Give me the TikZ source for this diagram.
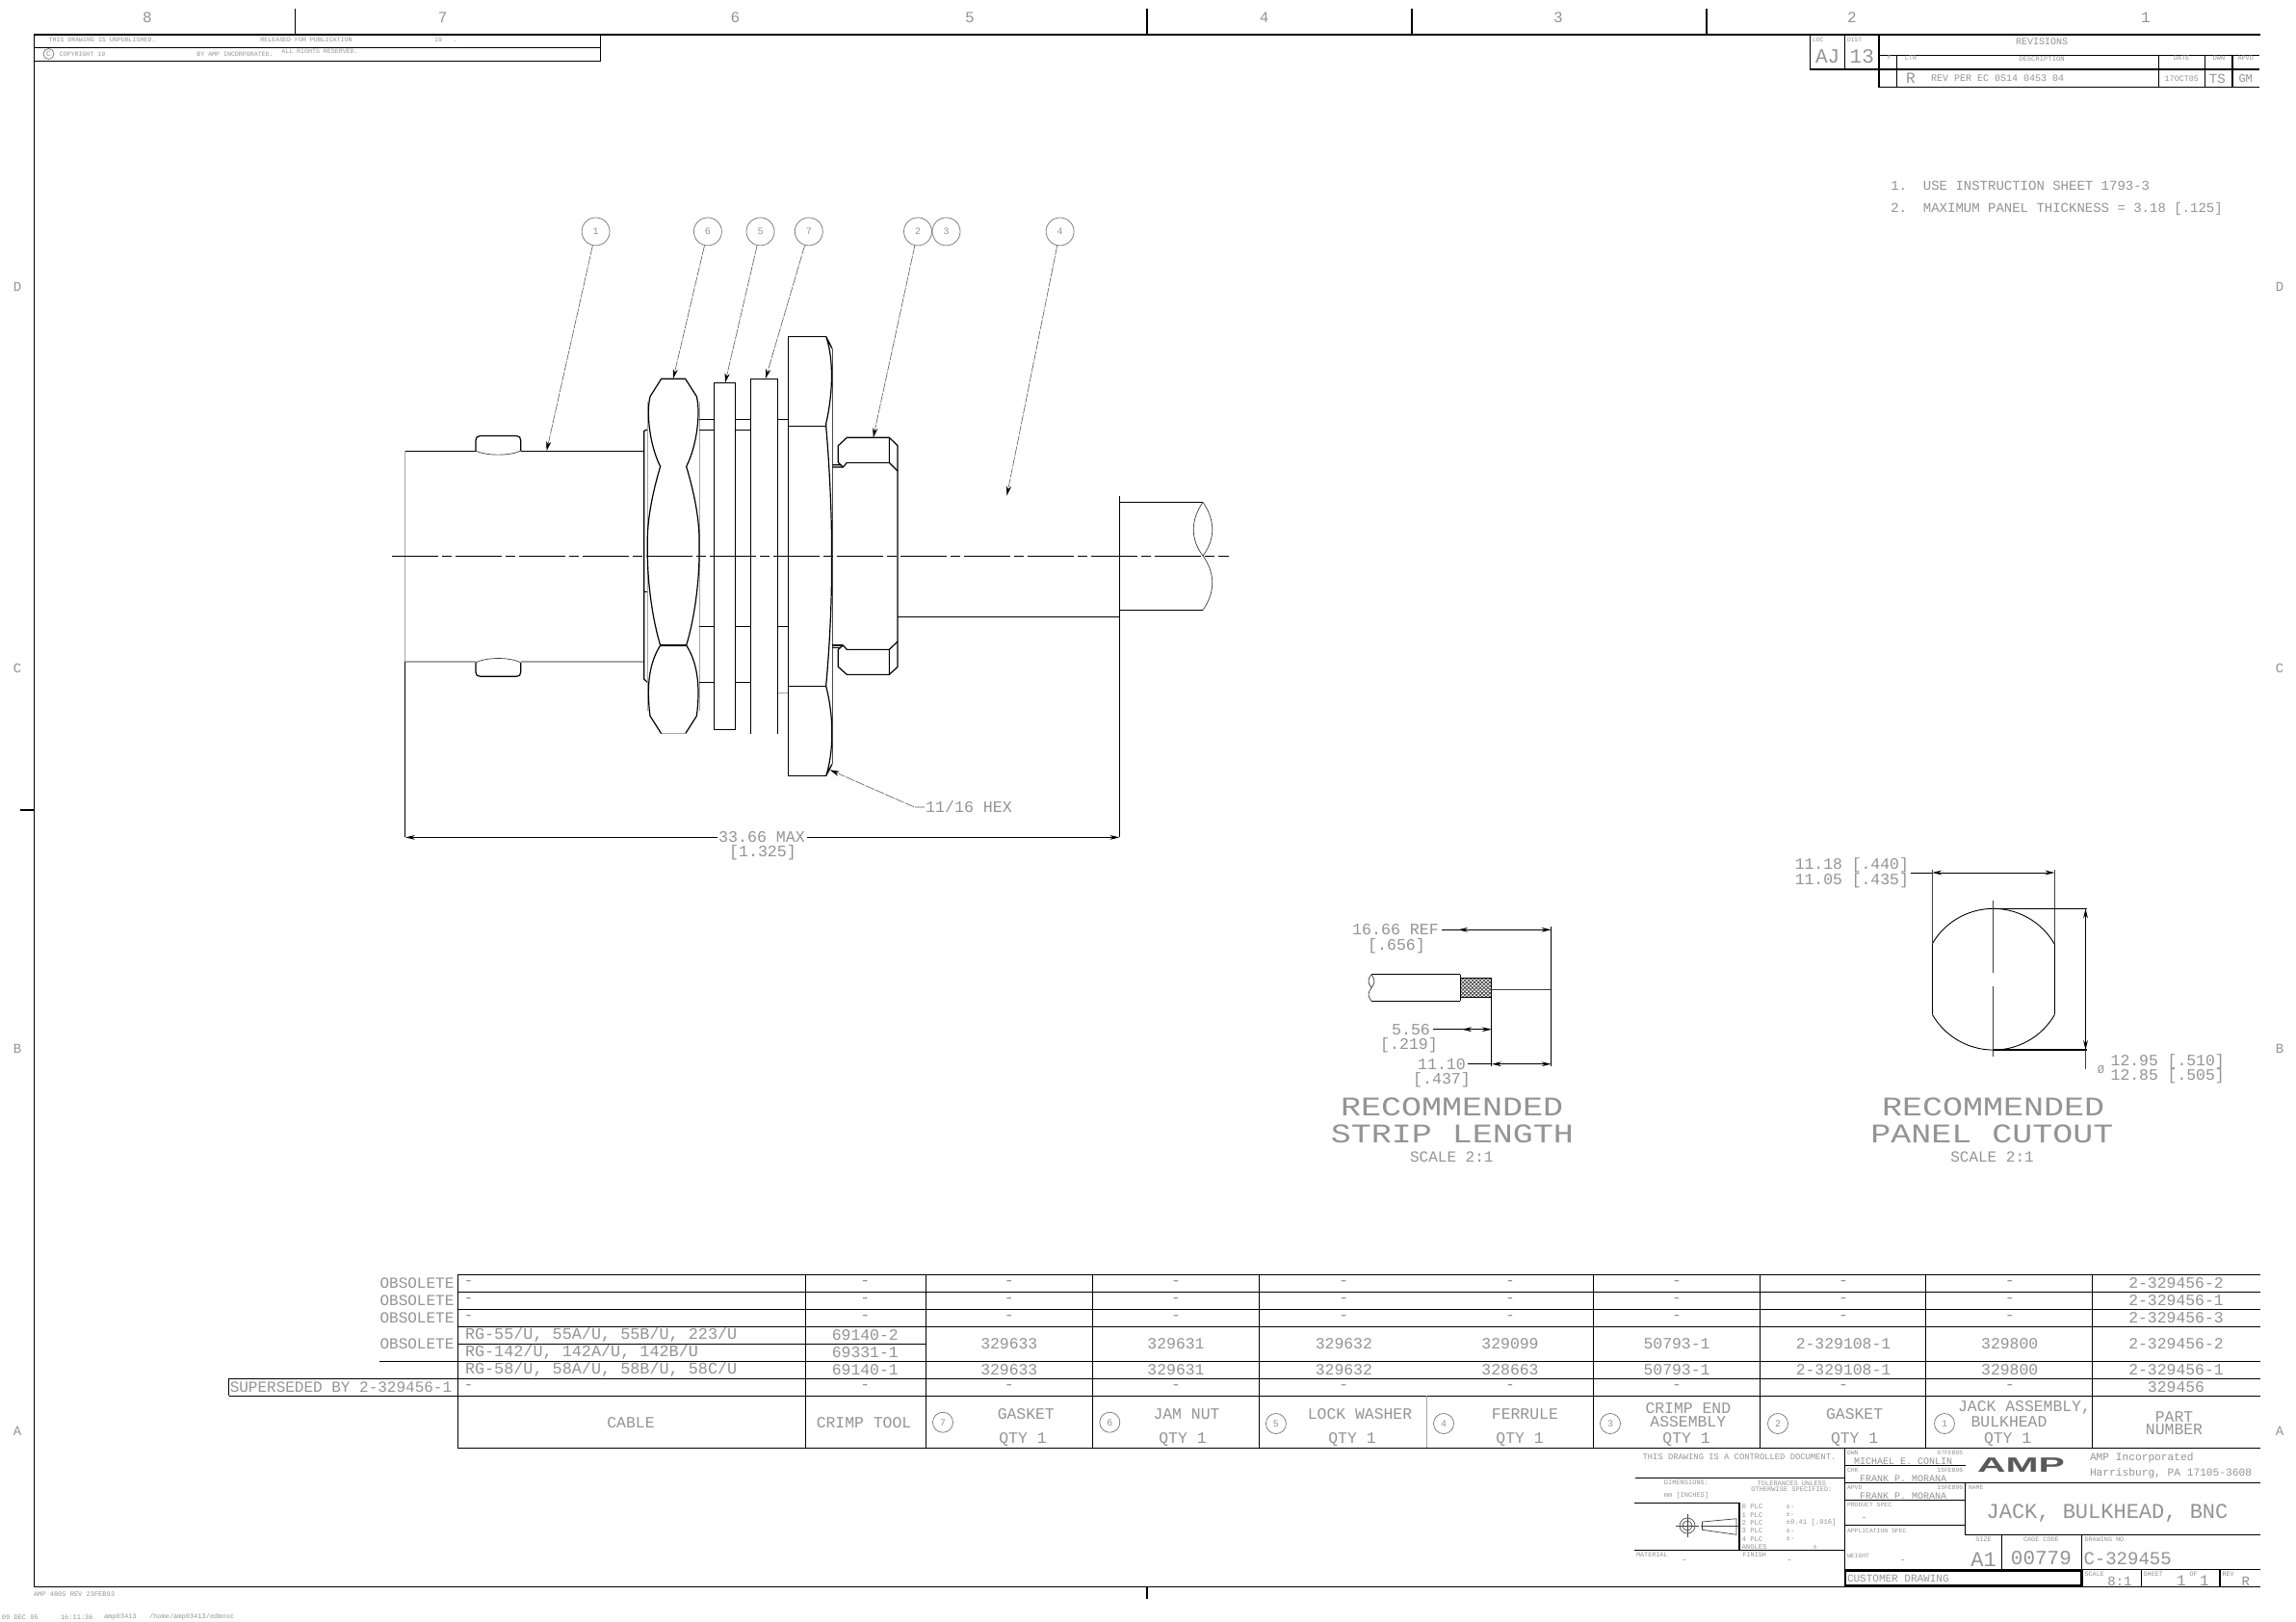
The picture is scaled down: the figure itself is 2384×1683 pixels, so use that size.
\documentclass[tikz,border=0pt]{standalone}
\usepackage{fontspec}
\usepackage{graphicx}
\setmainfont{Liberation Mono}
\newfontfamily\cadwide[FakeStretch=1.25]{Liberation Mono}
\newfontfamily\logofont[FakeStretch=1.6]{Liberation Sans}
\usetikzlibrary{arrows.meta}
\definecolor{cadtext}{gray}{0.58}
\newcounter{tn}
\tikzset{
  cad/.style={inner sep=0pt,outer sep=0pt,text=cadtext},
  ln/.style={line width=0.6pt,draw=black},
  thinln/.style={line width=0.35pt,draw=black!75},
  heavy/.style={line width=0.8pt,draw=black},
  faint/.style={line width=0.5pt,draw=black!35},
  leader/.style={line width=0.3pt,draw=black!65,dash pattern=on 5pt off 0.6pt,-{Stealth[length=5pt,width=2.6pt,black]}},
  dimln/.style={line width=0.5pt,draw=black},
  dimarr/.style={dimln,{Stealth[length=5pt,width=2.4pt]}-{Stealth[length=5pt,width=2.4pt]}},
  center/.style={line width=0.5pt,draw=black,dash pattern=on 24pt off 2pt on 5pt off 2pt},
  balloon/.style={circle,draw=black!55,line width=0.35pt,minimum size=14.5pt,inner sep=0pt,text=cadtext,font=\fontsize{5}{5}\selectfont},
  mini/.style={balloon,minimum size=10.5pt,font=\fontsize{5}{5}\selectfont},
}
% x, y (pixels), font size (pt), text
\newcommand{\Tt}[5][]{\stepcounter{tn}\node[cad,font=\fontsize{#4}{#4}\selectfont,#1] (tn\arabic{tn}) at (#2,#3) {#5};}
\newcommand{\Lt}[4]{\Tt[anchor=west]{#1}{#2}{#3}{#4}}
\begin{document}
\begin{tikzpicture}[x=0.5pt,y=-0.5pt]
\useasboundingbox (0,0) rectangle (2384,1683);
\fill[white] (0,0) rectangle (2384,1683);

%% sheet frame
\draw[ln] (2347,36) -- (35.4,36) -- (35.4,1647.3) -- (2347,1647.3);
\foreach \x in {306.4,1191,1466,1772} \draw[ln] (\x,9) -- (\x,36);
\draw[ln] (1191,1647.3) -- (1191,1660);
\draw[ln] (21,841) -- (35.4,841);
\foreach \x/\n in {153/8,459.6/7,763.5/6,1007/5,1312.6/4,1618/3,1923/2,2228/1} {\Tt{\x}{18}{8}{\n}}
\foreach \y/\n in {298/D,694/C,1089/B,1486/A} {\Tt{18}{\y}{7}{\n} \Tt{2367}{\y}{7}{\n}}

%% header box
\draw[ln] (35.4,49.3) -- (623.7,49.3) (35.4,63.3) -- (623.7,63.3) (623.7,36) -- (623.7,63.3);
\Tt{106}{41.5}{3.3}{THIS DRAWING IS UNPUBLISHED.}
\Tt{318}{41.5}{3.3}{RELEASED FOR PUBLICATION}
\Tt{463}{41.5}{3.3}{19\ \ \ .}
\node[circle,draw=black!60,line width=0.3pt,minimum size=5.5pt,inner sep=0pt,text=cadtext,font=\fontsize{4}{4}\selectfont] (copy) at (50.5,56) {C};
\Tt{85.5}{56.5}{3.3}{COPYRIGHT 19}
\Tt{244}{56.5}{3.3}{BY AMP INCORPORATED.}
\Tt{332}{53.3}{3.3}{ALL RIGHTS RESERVED.}

%% revision block
\draw[ln] (1879.3,36) -- (1879.3,72) -- (1951,72) (1915.3,36) -- (1915.3,72) (1951,36) -- (1951,90.3) -- (2346,90.3);
\draw[ln] (1951,57.3) -- (2346,57.3) (1951,72) -- (2346,72);
\draw[ln] (1969.3,57.3) -- (1969.3,90.3) (2241.3,57.3) -- (2241.3,90.3) (2289.3,57.3) -- (2289.3,90.3) (2318,57.3) -- (2318,90.3);
\Lt{1882}{41}{3.2}{LOC}\Lt{1918}{41}{3.2}{DIST}
\Tt{1897.7}{58.3}{10.5}{AJ}\Tt{1933.3}{58.3}{10.5}{13}
\Tt{2120}{42.7}{5}{REVISIONS}
\Tt{1961.7}{59.3}{3}{P}\Tt{1984}{60.7}{3.4}{LTR}\Tt{2120}{60.7}{3.6}{DESCRIPTION}
\Tt{2265.3}{60.7}{3.4}{DATE}\Tt{2304}{60.7}{3.4}{DWN}\Tt{2331.7}{60.7}{3.4}{APVD}
\Tt{1984}{81}{8}{R}\Tt{2074}{81.5}{5}{REV PER EC 0S14 0453 04}
\Tt{2265.3}{81.5}{4.2}{17OCT05}\Tt{2302.3}{81.5}{7}{TS}\Tt{2331.7}{81.5}{6}{GM}

%% notes
\Lt{1963.3}{193.3}{7}{1.\ \ USE INSTRUCTION SHEET 1793-3}
\Lt{1963.3}{216.7}{7}{2.\ \ MAXIMUM PANEL THICKNESS = 3.18 [.125]}

%% ---- main view ----
\coordinate (cL) at (407,577.3);
\coordinate (cR) at (1276,577.3);
% connector body
\draw[ln] (420.8,468.4) -- (493.9,468.4) (540.7,468.4) -- (668.7,468.4);
\draw[faint,line width=0.8pt] (420.8,686.8) -- (493.9,686.8) (540.7,686.8) -- (668.7,686.8);
\draw[faint] (420.8,468.4) -- (420.8,686.8);
\draw[ln] (493.9,468) -- (493.9,457) .. controls (493.9,454) and (496,452.5) .. (499,452.5) -- (536,452.5) .. controls (539,452.5) and (540.7,454) .. (540.7,457) -- (540.7,468);
\draw[thinln] (493.9,468) .. controls (505,473.5) and (530,473.5) .. (540.7,468);
\draw[ln] (493.9,688) -- (493.9,698) .. controls (493.9,701) and (496,702.3) .. (499,702.3) -- (536,702.3) .. controls (539,702.3) and (540.7,701) .. (540.7,698) -- (540.7,688);
\draw[thinln] (493.9,688) .. controls (505,682) and (530,682) .. (540.7,688);

\begin{scope}[xshift=320pt,yshift=-170pt,x=0.166667pt,y=-0.166667pt]
 % step of body
 \draw[ln] (97,318) -- (86,322) -- (86,1095) -- (97,1105) (86,823) -- (97,823);
 \draw[faint] (97,232) -- (97,1195) (259,232) -- (259,1195);
 % jam nut
 \draw[ln] (105,215) -- (140,160) -- (215,160) -- (250,215) .. controls (263,270) and (250,370) .. (218,433)
   .. controls (250,540) and (260,620) .. (258,680) .. controls (260,780) and (245,900) .. (218,990)
   .. controls (250,1040) and (263,1110) .. (250,1210) -- (215,1265);
 \draw[faint,line width=0.8pt] (215,1265) -- (140,1265);
 \draw[ln] (140,1265) -- (105,1210) .. controls (92,1110) and (105,1040) .. (137,990)
   .. controls (110,900) and (95,780) .. (97,680) .. controls (95,620) and (105,540) .. (137,433)
   .. controls (105,370) and (92,270) .. (105,215);
 \draw[ln] (137,990) -- (218,990);
 % shaft
 \draw[ln] (259,287) -- (304,287) (370,287) -- (418,287) (502,287) -- (535,287);
 \draw[ln] (259,319) -- (304,319) (370,319) -- (418,319);
 \draw[ln] (259,931) -- (304,931) (370,931) -- (418,931) (502,931) -- (535,931);
 \draw[ln] (259,1105) -- (304,1105) (370,1105) -- (418,1105);
 \draw[faint] (502,1138) -- (535,1138);
 % lock washer and gasket
 \draw[ln] (304,172) rectangle (370,1252);
 \draw[ln] (418,1265) -- (418,160) -- (502,160) -- (502,1265);
 % bulkhead nut
 \draw[ln] (653,28) -- (535,28) -- (535,1397) -- (653,1397);
 \draw[ln] (535,307) -- (653,307) (535,1117) -- (653,1117);
 \draw[ln] (653,28) -- (672,65) (653,28) .. controls (672,80) and (680,180) .. (653,300) -- (653,307)
   .. controls (668,480) and (672,650) .. (670,712) .. controls (672,800) and (668,950) .. (653,1117)
   .. controls (680,1220) and (675,1330) .. (653,1397) -- (672,1360);
 \draw[ln,draw=black!70] (673,65) -- (673,1360);
 % rear nut
 \draw[ln] (673,428) -- (700,428) (673,435) -- (706,435) -- (718,421) -- (850,421);
 \draw[ln] (691,420) -- (706,435) (691,420) -- (691,368) -- (718,343) -- (850,343) -- (876,368) -- (876,1057) -- (850,1081) -- (718,1081) -- (691,1057) -- (691,1003) -- (706,990) -- (718,1003) -- (850,1003);
 \draw[ln] (850,343) -- (850,421) -- (876,447) (850,1081) -- (850,1003) -- (876,978);
 \draw[ln] (673,990) -- (706,990) (673,997) -- (695,997);
\end{scope}
% cable
\draw[ln] (932,640.3) -- (1162.4,640.3);
\draw[ln] (1162.4,521.4) -- (1249,521.4) (1162.4,633.4) -- (1249,633.4);
\draw[thinln] (1249,521.4) .. controls (1262,540) and (1262,560) .. (1249,577) .. controls (1262,595) and (1262,615) .. (1249,633.4);
\draw[thinln] (1249,521.4) .. controls (1236,540) and (1236,560) .. (1249,577);
\draw[center] (cL) -- (cR);
% extension lines and overall dimension
\coordinate (dimL) at (420.8,869.4);
\coordinate (dimR) at (1162.4,869.4);
\draw[ln] (420.8,686.8) -- (dimL) (1162.4,514.5) -- (dimR);
\Tt{791}{869.4}{8.3}{33.66 MAX}
\Tt{792}{885}{8.3}{[1.325]}
\draw[dimln,{Stealth[length=5pt,width=2.4pt]}-] (dimL) -- (745,869.4);
\draw[dimln,{Stealth[length=5pt,width=2.4pt]}-] (dimR) -- (838,869.4);
% balloons and leaders
\node[balloon] (b1) at (618.6,240.4) {1};
\node[balloon] (b6) at (734.9,240.4) {6};
\node[balloon] (b5) at (789.5,240.4) {5};
\node[balloon] (b7) at (839.8,240.4) {7};
\node[balloon] (b2) at (953,240.4) {2};
\node[balloon] (b3) at (982.5,240.4) {3};
\node[balloon] (b4) at (1100.6,240.4) {4};
\coordinate (t1) at (567.6,468);
\coordinate (t6) at (699,393);
\coordinate (t5) at (752.9,397.4);
\coordinate (t7) at (794.9,393);
\coordinate (t2) at (906.7,454.3);
\coordinate (t4) at (1045.5,514.5);
\draw[leader] (b1) -- (t1);
\draw[leader] (b6) -- (t6);
\draw[leader] (b5) -- (t5);
\draw[leader] (b7) -- (t7);
\draw[leader] (b2) -- (t2);
\draw[leader] (b4) -- (t4);
\Tt{1006}{838}{8.3}{11/16 HEX}
\coordinate (hexT) at (861.7,799.3);
\draw[leader] (960,838) -- (949.5,838) -- (hexT);

%% ---- strip length ----
\draw[ln] (1424,1011.7) -- (1516.3,1011.7) (1424,1039.3) -- (1516.3,1039.3);
\draw[ln] (1516.3,1011.7) -- (1516.3,1039.3);
\draw[thinln] (1424,1011.7) .. controls (1428,1018) and (1428,1020) .. (1424,1025.5) .. controls (1420,1031) and (1420,1034) .. (1424,1039.3);
\draw[thinln] (1424,1011.7) .. controls (1420,1016) and (1420,1021) .. (1424,1025.5);
\begin{scope}
 \clip (1516.3,1015.3) rectangle (1548.1,1035.7);
 \foreach \i in {-30,-26,...,40} {
   \draw[line width=0.4pt,black!70] (1516+\i,1015) -- (1516+\i+22,1036);
   \draw[line width=0.4pt,black!70] (1516+\i+22,1015) -- (1516+\i,1036);
 }
\end{scope}
\draw[ln] (1516.3,1015.3) rectangle (1548.1,1035.7);
\draw[thinln] (1548.1,1027) -- (1610.6,1027);
\draw[ln] (1610.6,962) -- (1610.6,1106.7);
\draw[ln] (1548.8,1035.7) -- (1548.8,1106.7);
\Tt{1449}{965.3}{8.3}{16.66 REF}
\Tt{1450}{982}{8.3}{[.656]}
\draw[dimln,-{Stealth[length=5pt,width=2.4pt]}] (1497,965.3) -- (1610.6,965.3);
\draw[{Stealth[length=5pt,width=2.4pt]}-,dimln] (1514,965.3) -- (1524,965.3);
\Tt{1465}{1068.7}{8.3}{5.56}
\Tt{1463}{1085}{8.3}{[.219]}
\draw[dimln,-{Stealth[length=5pt,width=2.4pt]}] (1488,1068.7) -- (1548.8,1068.7);
\draw[{Stealth[length=5pt,width=2.4pt]}-,dimln] (1518,1068.7) -- (1528,1068.7);
\Tt{1497}{1104.7}{8.3}{11.10}
\Tt{1497}{1121}{8.3}{[.437]}
\draw[dimln] (1524,1104.7) -- (1548.8,1104.7);
\draw[dimarr] (1548.8,1104.7) -- (1610.6,1104.7);
\Tt[font=\cadwide\fontsize{14}{14}\selectfont]{1507.6}{1149}{14}{RECOMMENDED}
\Tt[font=\cadwide\fontsize{14}{14}\selectfont]{1508}{1177.5}{14}{STRIP LENGTH}
\Tt{1507.3}{1201}{8}{SCALE 2:1}

%% ---- panel cutout ----
\coordinate (pc) at (2069.8,1016.7);
\draw[ln,line width=0.45pt] (2006.2,980) arc[start angle=-150,end angle=-30,radius=73.3];
\draw[ln,line width=0.45pt] (2133.4,1053.4) arc[start angle=30,end angle=150,radius=73.3];
\draw[ln,line width=0.45pt] (2006.2,980) -- (2006.2,1053.4) (2133.4,980) -- (2133.4,1053.4);
\draw[thinln] (2006.2,980) -- (2006.2,903) (2133.4,980) -- (2133.4,903);
\draw[thinln] (2069.8,935) -- (2069.8,1010) (2069.8,1024) -- (2069.8,1096.7);
\draw[ln] (2069.8,943.4) -- (2166.7,943.4) (2069.8,1090) -- (2166.7,1090);
\draw[thinln] (2165.5,1090) -- (2165.5,1110);
\draw[dimarr] (2006.2,906) -- (2133.4,906);
\draw[dimln] (1983.7,906) -- (2006.2,906);
\draw[dimarr] (2165.5,943.4) -- (2165.5,1090);
\Tt{1922.8}{898.3}{8.2}{11.18 [.440]}
\Tt{1922.8}{914}{8.2}{11.05 [.435]}
\Tt{2181.4}{1110.7}{6}{Ø}
\Tt{2250.7}{1102.7}{8.2}{12.95 [.510]}
\Tt{2250.7}{1117.3}{8.2}{12.85 [.505]}
\Tt[font=\cadwide\fontsize{14}{14}\selectfont]{2069.6}{1149}{14}{RECOMMENDED}
\Tt[font=\cadwide\fontsize{14}{14}\selectfont]{2068.5}{1177.5}{14}{PANEL CUTOUT}
\Tt{2068.5}{1201}{8}{SCALE 2:1}

%% ---- parts table ----
\foreach \y in {1323.3,1341.3,1359.3,1377.3} \draw[heavy] (475.4,\y) -- (2347,\y);
\draw[heavy] (394,1413.3) -- (2347,1413.3);
\draw[heavy] (475.4,1395.3) -- (961.5,1395.3);
\draw[heavy] (237.5,1431.3) -- (2347,1431.3);
\draw[heavy] (237.5,1449.3) -- (2347,1449.3);
\draw[heavy] (475.4,1503.3) -- (2347,1503.3);
\draw[heavy] (237.5,1431.3) -- (237.5,1449.3);
\draw[heavy] (475.4,1323.3) -- (475.4,1503.3);
\draw[ln,line width=0.45pt] (836,1323.3) -- (836,1503.3) (961.5,1323.3) -- (961.5,1503.3) (1134,1323.3) -- (1134,1503.3) (1307,1323.3) -- (1307,1503.3) (1654,1323.3) -- (1654,1503.3) (1827,1323.3) -- (1827,1503.3) (1999.6,1323.3) -- (1999.6,1503.3) (2172.4,1323.3) -- (2172.4,1503.3);
\draw[faint] (1481,1449.3) -- (1481,1503.3);
% left labels
\Tt{433}{1332.3}{8}{OBSOLETE}\Tt{433}{1350.3}{8}{OBSOLETE}\Tt{433}{1368.3}{8}{OBSOLETE}\Tt{433}{1395.3}{8}{OBSOLETE}
\Tt{354}{1440.3}{8}{SUPERSEDED BY 2-329456-1}
% dashes
\foreach \y in {1332.3,1350.3,1368.3,1440.3} {
  \Tt{486.6}{\y}{8.2}{-}
  \foreach \x in {898.3,1047.8,1221,1395.4,1568,1741,1914,2086.7} {\Tt{\x}{\y}{8.2}{-}}
}
\Tt{2259.5}{1332.3}{8.2}{2-329456-2}\Tt{2259.5}{1350.3}{8.2}{2-329456-1}\Tt{2259.5}{1368.3}{8.2}{2-329456-3}\Tt{2259.5}{1440.3}{8.2}{329456}
\Lt{483}{1386.3}{8.4}{RG-55/U, 55A/U, 55B/U, 223/U}
\Lt{483}{1404.3}{8.4}{RG-142/U, 142A/U, 142B/U}
\Lt{483}{1422.3}{8.4}{RG-58/U, 58A/U, 58B/U, 58C/U}
\Tt{898.3}{1386.3}{8.2}{69140-2}\Tt{898.3}{1404.3}{8.2}{69331-1}\Tt{898.3}{1422.3}{8.2}{69140-1}
\Tt{1047.8}{1395.3}{8.2}{329633}\Tt{1221}{1395.3}{8.2}{329631}\Tt{1395.4}{1395.3}{8.2}{329632}\Tt{1568}{1395.3}{8.2}{329099}\Tt{1741}{1395.3}{8.2}{50793-1}\Tt{1914}{1395.3}{8.2}{2-329108-1}\Tt{2086.7}{1395.3}{8.2}{329800}\Tt{2259.5}{1395.3}{8.2}{2-329456-2}
\Tt{1047.8}{1422.3}{8.2}{329633}\Tt{1221}{1422.3}{8.2}{329631}\Tt{1395.4}{1422.3}{8.2}{329632}\Tt{1568}{1422.3}{8.2}{328663}\Tt{1741}{1422.3}{8.2}{50793-1}\Tt{1914}{1422.3}{8.2}{2-329108-1}\Tt{2086.7}{1422.3}{8.2}{329800}\Tt{2259.5}{1422.3}{8.2}{2-329456-1}
% header row
\Tt{655}{1476.7}{8.2}{CABLE}\Tt{897}{1476.7}{8.2}{CRIMP TOOL}
\node[mini] (h7) at (979,1476.7) {7};
\node[mini] (h6) at (1152.3,1476.7) {6};
\node[mini] (h5) at (1324.9,1478) {5};
\node[mini] (h4) at (1499,1478) {4};
\node[mini] (h3) at (1672,1478) {3};
\node[mini] (h2) at (1846,1478) {2};
\node[mini] (h1) at (2019,1478) {1};
\Tt{1065.3}{1467.7}{8.2}{GASKET}\Tt{1062}{1494.3}{8.2}{QTY 1}
\Tt{1232}{1467.7}{8.2}{JAM NUT}\Tt{1228}{1494.3}{8.2}{QTY 1}
\Tt{1412}{1467.7}{8.2}{LOCK WASHER}\Tt{1404}{1494.3}{8.2}{QTY 1}
\Tt{1583.4}{1467.7}{8.2}{FERRULE}\Tt{1578}{1494.3}{8.2}{QTY 1}
\Tt{1752.8}{1461.7}{8.2}{CRIMP END}\Tt{1752.8}{1475.7}{8.2}{ASSEMBLY}\Tt{1751}{1494.3}{8.2}{QTY 1}
\Tt{1925.6}{1467.7}{8.2}{GASKET}\Tt{1925.6}{1494.3}{8.2}{QTY 1}
\Tt{2102}{1461.7}{8.2}{JACK ASSEMBLY,}\Tt{2086}{1475.7}{8.2}{BULKHEAD}\Tt{2084.6}{1494.3}{8.2}{QTY 1}
\Tt{2257.5}{1470.7}{8.2}{PART}\Tt{2257.5}{1484.3}{8.2}{NUMBER}

%% ---- title block ----
\draw[ln] (1915.8,1503.3) -- (1915.8,1647.3);
\draw[ln] (1697.5,1534.3) -- (1915.8,1534.3);
\draw[ln] (1696.6,1560.7) -- (1806,1560.7) -- (1806,1609.3);
\draw[ln] (1696.6,1609.3) -- (1915.8,1609.3);
\draw[ln] (1915.8,1521.7) -- (2040.6,1521.7);
\draw[ln] (1915.8,1539.3) -- (2347,1539.3);
\draw[ln] (1915.8,1557.3) -- (2040.6,1557.3) (1915.8,1583.3) -- (2040.6,1583.3);
\draw[ln] (2040.6,1539.3) -- (2040.6,1593.3) -- (2347,1593.3);
\draw[ln] (1915.8,1629.3) -- (2347,1629.3);
\draw[ln] (2078.7,1593.3) -- (2078.7,1629.3) (2161.4,1593.3) -- (2161.4,1629.3);
\draw[ln] (2223.4,1629.3) -- (2223.4,1647.3) (2305,1629.3) -- (2305,1647.3);
\draw[line width=1.1pt] (1915.8,1630.7) rectangle (2161.4,1646.5);
\Tt{1806}{1512.7}{4.4}{THIS DRAWING IS A CONTROLLED DOCUMENT.}
\Tt{1751}{1539.3}{3.5}{DIMENSIONS:}
\Tt{1751}{1553}{3.5}{mm [INCHES]}
\Tt{1860.4}{1539.8}{3.5}{TOLERANCES UNLESS}
\Tt{1860.4}{1545.7}{3.5}{OTHERWISE SPECIFIED:}
% datum symbol
\node[circle,draw=black!70,line width=0.35pt,minimum size=8pt,inner sep=0pt] (symO) at (1752,1584) {};
\node[circle,draw=black!70,line width=0.35pt,minimum size=5pt,inner sep=0pt] (symI) at (1752,1584) {};
\draw[thinln] (1740,1584) -- (1764,1584) (1752,1572) -- (1752,1596);
\draw[thinln] (1767.5,1580) -- (1803,1576.7) -- (1803,1593.3) -- (1767.5,1588.3) -- cycle;
\draw[thinln] (1766,1584) -- (1806,1584);
\Lt{1808.6}{1564.3}{3.6}{0 PLC}\Lt{1854.7}{1564.3}{3.6}{±-}
\Lt{1808.6}{1572.7}{3.6}{1 PLC}\Lt{1854.7}{1572.7}{3.6}{±-}
\Lt{1808.6}{1580.7}{3.6}{2 PLC}\Lt{1854.7}{1580.7}{3.6}{±0.41 [.016]}
\Lt{1808.6}{1589.3}{3.6}{3 PLC}\Lt{1854.7}{1589.3}{3.6}{±-}
\Lt{1808.6}{1597.7}{3.6}{4 PLC}\Lt{1854.7}{1597.7}{3.6}{±-}
\Lt{1808.6}{1606}{3.6}{ANGLES}\Tt{1884.7}{1606}{3.6}{±}
\Lt{1699}{1614.3}{3.4}{MATERIAL}\Tt{1749}{1620.7}{5}{-}
\Lt{1809.5}{1614.3}{3.4}{FINISH}\Tt{1858}{1620.7}{5}{-}
\Lt{1918}{1508.3}{3.2}{DWN}\Tt[anchor=east]{2038.3}{1508.3}{3.2}{07FEB95}
\Tt{1976}{1517.3}{5}{MICHAEL E. CONLIN}
\Lt{1918}{1526}{3.2}{CHK}\Tt[anchor=east]{2038.3}{1526}{3.2}{15FEB96}
\Tt{1976}{1535}{5}{FRANK P. MORANA}
\Lt{1918}{1544}{3.2}{APVD}\Tt[anchor=east]{2038.3}{1544}{3.2}{15FEB96}
\Tt{1976}{1553.3}{5}{FRANK P. MORANA}
\Lt{1918}{1562.7}{3.2}{PRODUCT SPEC}\Tt{1935.7}{1577}{5}{-}
\Lt{1918}{1589}{3.2}{APPLICATION SPEC}
\Lt{1918}{1615}{3.2}{WEIGHT}\Tt{1975.5}{1620.7}{5}{-}
\Lt{1918}{1639.3}{5.5}{CUSTOMER DRAWING}
\node[inner sep=0pt,text=black!65] (logo) at (2098.4,1521) {\resizebox{45.4pt}{7.4pt}{\logofont\bfseries AMP}};
\Lt{2170}{1514}{5.6}{AMP Incorporated}
\Lt{2170}{1529.3}{5.6}{Harrisburg, PA 17105-3608}
\Lt{2044}{1544.3}{3.2}{NAME}
\Tt{2188}{1570.7}{11}{JACK, BULKHEAD, BNC}
\Tt{2059.5}{1598.7}{3.4}{SIZE}\Tt{2059.5}{1619.3}{11}{A1}
\Tt{2119.4}{1598.7}{3.4}{CAGE CODE}\Tt{2119.4}{1618}{10.5}{00779}
\Lt{2164.5}{1598.7}{3.4}{DRAWING NO}\Lt{2163.5}{1618}{9.5}{C-329455}
\Lt{2164.5}{1634}{3.4}{SCALE}\Tt{2201}{1641.7}{7}{8:1}
\Lt{2225.6}{1634}{3.4}{SHEET}\Tt{2265}{1641.7}{8}{1}
\Tt{2277.6}{1634}{3.4}{OF}\Tt{2288.8}{1641.7}{8}{1}
\Lt{2307.5}{1634}{3.4}{REV}\Tt{2331.8}{1641.7}{7}{R}

%% footer
\Lt{35}{1655.3}{3.5}{AMP 4805 REV 23FEB93}
\Lt{2}{1679}{3.5}{09 DEC 95}
\Lt{63}{1679}{3.5}{16:11:36}
\Lt{108}{1679}{3.5}{amp03413}
\Lt{155}{1679}{3.5}{/home/amp03413/edmnxc}
\end{tikzpicture}
\end{document}
